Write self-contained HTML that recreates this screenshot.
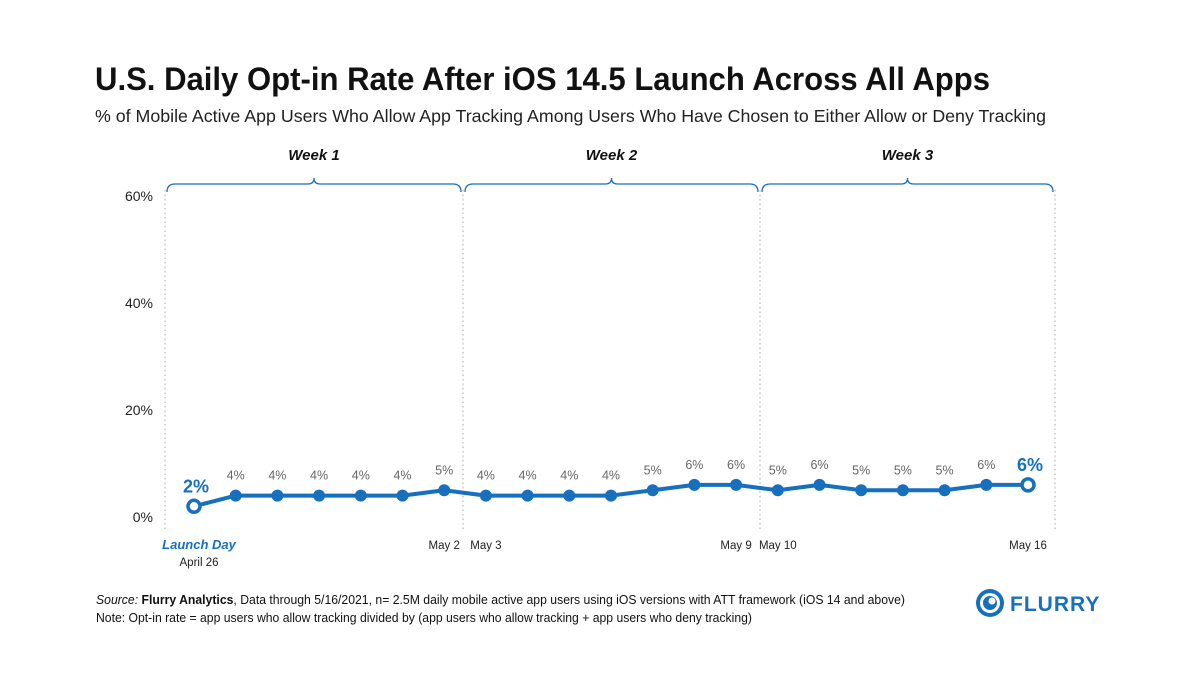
<!DOCTYPE html>
<html><head><meta charset="utf-8"><style>
body{margin:0;background:#fff;width:1200px;height:675px;overflow:hidden;font-family:"Liberation Sans",sans-serif}
</style></head><body>
<svg width="1200" height="675" font-family="Liberation Sans, sans-serif">
<text x="95" y="90" font-size="32" font-weight="bold" fill="#111" textLength="895" lengthAdjust="spacingAndGlyphs">U.S. Daily Opt-in Rate After iOS 14.5 Launch Across All Apps</text>
<text x="95" y="122" font-size="17.5" fill="#222" textLength="951" lengthAdjust="spacingAndGlyphs">% of Mobile Active App Users Who Allow App Tracking Among Users Who Have Chosen to Either Allow or Deny Tracking</text>
<g id="weeks"></g>
<g id="yaxis"></g>
<g id="series"></g>
<g id="xlabels"></g>
<text x="96" y="604" font-size="12.5" fill="#111" textLength="809" lengthAdjust="spacingAndGlyphs"><tspan font-style="italic">Source:</tspan> <tspan font-weight="bold">Flurry Analytics</tspan>, Data through 5/16/2021, n= 2.5M daily mobile active app users using iOS versions with ATT framework (iOS 14 and above)</text>
<text x="96" y="622" font-size="12.5" fill="#111" textLength="656" lengthAdjust="spacingAndGlyphs">Note: Opt-in rate = app users who allow tracking divided by (app users who allow tracking + app users who deny tracking)</text>
<g>
<circle cx="990" cy="603" r="14" fill="#1670be"/><circle cx="990" cy="603" r="10" fill="#fff"/><circle cx="990" cy="603" r="7" fill="#1670be"/><circle cx="992" cy="601" r="3.5" fill="#fff"/>
<text x="1010" y="611" font-size="21" font-weight="bold" fill="#1670be" letter-spacing="1">FLURRY</text></g>
</svg>
<script>
const dates=["April 26","Apr 27","Apr 28","Apr 29","Apr 30","May 1","May 2","May 3","May 4","May 5","May 6","May 7","May 8","May 9","May 10","May 11","May 12","May 13","May 14","May 15","May 16"];
const values=[2,4,4,4,4,4,5,4,4,4,4,5,6,6,5,6,5,5,5,6,6];
const yTicks=[0,20,40,60];
const weeks=["Week 1","Week 2","Week 3"];
const NS="http://www.w3.org/2000/svg";
const blue="#1670be";
const x=i=>194+i*41.7;
const y=v=>517-v*5.35;
function mk(p,t,a,txt){const e=document.createElementNS(NS,t);for(const k in a)e.setAttribute(k,a[k]);if(txt!=null)e.textContent=txt;document.getElementById(p).appendChild(e);return e;}
yTicks.forEach(t=>{const e=mk("yaxis","text",{x:153,y:y(t)+5,"font-size":14,fill:"#222","text-anchor":"end"},t+"%");

});
const bounds=[165,463,760,1055];
bounds.forEach(b=>{const e=mk("weeks","line",{x1:b,x2:b,y1:190,y2:530,stroke:"#aaa","stroke-dasharray":"1.5 3"});

});
weeks.forEach((w,i)=>{const a=bounds[i]+2,b=bounds[i+1]-2,m=(a+b)/2,yy=184;
const p=mk("weeks","path",{d:`M${a},${yy+8} Q${a},${yy} ${a+8},${yy} L${m-6},${yy} Q${m},${yy} ${m},${yy-6} Q${m},${yy} ${m+6},${yy} L${b-8},${yy} Q${b},${yy} ${b},${yy+8}`,fill:"none",stroke:blue,"stroke-width":1.3});


const t=mk("weeks","text",{x:m,y:160,"font-size":15,"font-weight":"bold","font-style":"italic","text-anchor":"middle",fill:"#111"},w);

});
const pl=mk("series","polyline",{points:values.map((v,i)=>x(i)+","+y(v)).join(" "),fill:"none",stroke:blue,"stroke-width":4,"stroke-linejoin":"round"});


values.forEach((v,i)=>{const last=i==0||i==values.length-1;
const c=mk("series","circle",last?{cx:x(i),cy:y(v),r:6,fill:"#fff",stroke:blue,"stroke-width":3.5}:{cx:x(i),cy:y(v),r:6,fill:blue});


const t=mk("series","text",last?{x:x(i)+2,y:y(v)-14,"font-size":18,"font-weight":"bold",fill:blue,"text-anchor":"middle"}:{x:x(i),y:y(v)-16,"font-size":12.5,fill:"#666","text-anchor":"middle"},v+"%");

});
const xl=[[0,"Launch Day",549,true],[0,"April 26",566,false],[6,"May 2",549,false],[7,"May 3",549,false],[13,"May 9",549,false],[14,"May 10",549,false],[20,"May 16",549,false]];
xl.forEach(([i,s,yy,ld])=>{const t=mk("xlabels","text",ld?{x:x(i)+5,y:yy,"font-size":13,"font-weight":"bold","font-style":"italic",fill:blue,"text-anchor":"middle"}:{x:x(i)+(i==0?5:0),y:yy,"font-size":11.5,fill:"#222","text-anchor":"middle"},s);

});
</script>
</body></html>
